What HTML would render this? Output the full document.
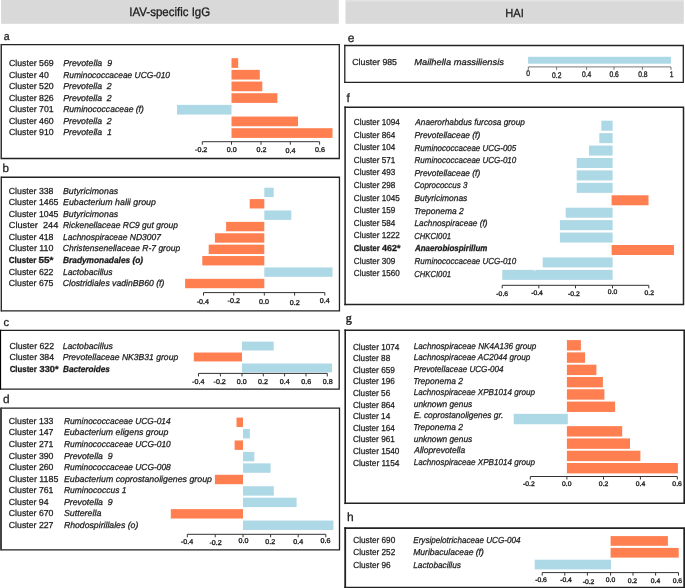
<!DOCTYPE html>
<html><head><meta charset="utf-8"><title>Figure</title>
<style>
html,body{margin:0;padding:0;background:#fff;}
svg{display:block;will-change:transform;}
text{text-rendering:geometricPrecision;font-family:"Liberation Sans",sans-serif;fill:#1a1a1a;stroke:#1a1a1a;stroke-width:0.25px;}
text.b{stroke-width:0.3px;}
.i{font-style:italic;}
.b{font-weight:bold;}
.t{fill:#222;stroke:#222;stroke-width:0.35px;}
</style></head><body>
<svg width="685" height="588" viewBox="0 0 685 588">
<rect x="1.1" y="0" width="337.7" height="23.8" fill="#d9d9d9"/>
<rect x="345.5" y="0" width="338.3" height="1.2" fill="#e3e3e3"/>
<rect x="345.5" y="1.2" width="338.3" height="22.6" fill="#d9d9d9"/>
<text x="129.3" y="16.1" font-size="12.3" textLength="80.9" lengthAdjust="spacingAndGlyphs" fill="#222" style="stroke-width:0.3px">IAV-specific IgG</text>
<text x="505.3" y="16.5" font-size="11.8" textLength="18.6" lengthAdjust="spacingAndGlyphs" fill="#222">HAI</text>
<path d="M0.85 44.60H339.30V158.50H0.85" fill="none" stroke="#222" stroke-width="1.3"/>
<rect x="0.50" y="43.95" width="1.50" height="115.20" fill="#333"/>
<text x="3.7" y="40.0" font-size="11.4" textLength="5.9" lengthAdjust="spacingAndGlyphs" fill="#222">a</text>
<text x="9.0" y="66.10" font-size="8.72" textLength="44.69" lengthAdjust="spacingAndGlyphs" xml:space="preserve">Cluster 569</text>
<text x="63.15" y="66.10" font-size="8.72" textLength="48.88" lengthAdjust="spacingAndGlyphs" class="i" xml:space="preserve">Prevotella  9</text>
<text x="9.0" y="77.58" font-size="8.72" textLength="39.77" lengthAdjust="spacingAndGlyphs" xml:space="preserve">Cluster 40</text>
<text x="63.15" y="77.58" font-size="8.72" textLength="106.91" lengthAdjust="spacingAndGlyphs" class="i" xml:space="preserve">Ruminococcaceae UCG-010</text>
<text x="9.0" y="89.06" font-size="8.72" textLength="44.69" lengthAdjust="spacingAndGlyphs" xml:space="preserve">Cluster 520</text>
<text x="63.15" y="89.06" font-size="8.72" textLength="48.58" lengthAdjust="spacingAndGlyphs" class="i" xml:space="preserve">Prevotella  2</text>
<text x="9.0" y="100.54" font-size="8.72" textLength="44.69" lengthAdjust="spacingAndGlyphs" xml:space="preserve">Cluster 826</text>
<text x="63.15" y="100.54" font-size="8.72" textLength="48.58" lengthAdjust="spacingAndGlyphs" class="i" xml:space="preserve">Prevotella  2</text>
<text x="9.0" y="112.02" font-size="8.72" textLength="44.69" lengthAdjust="spacingAndGlyphs" xml:space="preserve">Cluster 701</text>
<text x="63.15" y="112.02" font-size="8.72" textLength="80.71" lengthAdjust="spacingAndGlyphs" class="i" xml:space="preserve">Ruminococcaceae (f)</text>
<text x="9.0" y="123.50" font-size="8.72" textLength="44.69" lengthAdjust="spacingAndGlyphs" xml:space="preserve">Cluster 460</text>
<text x="63.15" y="123.50" font-size="8.72" textLength="48.58" lengthAdjust="spacingAndGlyphs" class="i" xml:space="preserve">Prevotella  2</text>
<text x="9.0" y="134.98" font-size="8.72" textLength="44.69" lengthAdjust="spacingAndGlyphs" xml:space="preserve">Cluster 910</text>
<text x="63.15" y="134.98" font-size="8.72" textLength="48.81" lengthAdjust="spacingAndGlyphs" class="i" xml:space="preserve">Prevotella  1</text>
<rect x="231.50" y="58.20" width="6.70" height="9.70" fill="#ff7f50"/>
<rect x="231.50" y="69.87" width="28.30" height="9.70" fill="#ff7f50"/>
<rect x="231.50" y="81.54" width="30.80" height="9.70" fill="#ff7f50"/>
<rect x="231.50" y="93.21" width="45.90" height="9.70" fill="#ff7f50"/>
<rect x="177.00" y="104.88" width="54.50" height="9.70" fill="#add8e6"/>
<rect x="231.50" y="116.55" width="66.50" height="9.70" fill="#ff7f50"/>
<rect x="231.50" y="128.22" width="101.00" height="9.70" fill="#ff7f50"/>
<path d="M202.30 144.70V141.70H319.60V144.70M231.50 141.70v3M261.00 141.70v3M290.30 141.70v3" fill="none" stroke="#333" stroke-width="1"/>
<text class="t" x="201.20" y="152.10" text-anchor="middle" font-size="7.06" textLength="12.34" lengthAdjust="spacingAndGlyphs">-0.2</text>
<text class="t" x="231.70" y="151.80" text-anchor="middle" font-size="7.06" textLength="9.94" lengthAdjust="spacingAndGlyphs">0.0</text>
<text class="t" x="261.40" y="151.80" text-anchor="middle" font-size="7.06" textLength="9.94" lengthAdjust="spacingAndGlyphs">0.2</text>
<text class="t" x="290.50" y="153.10" text-anchor="middle" font-size="7.06" textLength="9.94" lengthAdjust="spacingAndGlyphs">0.4</text>
<text class="t" x="319.90" y="151.60" text-anchor="middle" font-size="7.06" textLength="9.94" lengthAdjust="spacingAndGlyphs">0.6</text>
<path d="M0.85 177.25H339.45V310.80H0.85" fill="none" stroke="#222" stroke-width="1.3"/>
<rect x="0.60" y="176.60" width="1.40" height="134.85" fill="#2a2a2a"/>
<text x="2.5" y="171.8" font-size="11.6" fill="#222">b</text>
<text x="8.8" y="193.70" font-size="8.72" textLength="44.69" lengthAdjust="spacingAndGlyphs" xml:space="preserve">Cluster 338</text>
<text x="63.00" y="193.70" font-size="8.72" textLength="55.18" lengthAdjust="spacingAndGlyphs" class="i" xml:space="preserve">Butyricimonas</text>
<text x="8.8" y="205.25" font-size="8.72" textLength="49.61" lengthAdjust="spacingAndGlyphs" xml:space="preserve">Cluster 1465</text>
<text x="63.00" y="205.25" font-size="8.72" textLength="92.89" lengthAdjust="spacingAndGlyphs" class="i" xml:space="preserve">Eubacterium halii group</text>
<text x="8.8" y="216.80" font-size="8.72" textLength="49.61" lengthAdjust="spacingAndGlyphs" xml:space="preserve">Cluster 1045</text>
<text x="63.00" y="216.80" font-size="8.72" textLength="55.18" lengthAdjust="spacingAndGlyphs" class="i" xml:space="preserve">Butyricimonas</text>
<text x="8.8" y="228.35" font-size="8.72" textLength="49.54" lengthAdjust="spacingAndGlyphs" xml:space="preserve">Cluster  244</text>
<text x="63.00" y="228.35" font-size="8.72" textLength="114.87" lengthAdjust="spacingAndGlyphs" class="i" xml:space="preserve">Rickenellaceae RC9 gut group</text>
<text x="8.8" y="239.90" font-size="8.72" textLength="44.69" lengthAdjust="spacingAndGlyphs" xml:space="preserve">Cluster 418</text>
<text x="63.00" y="239.90" font-size="8.72" textLength="97.93" lengthAdjust="spacingAndGlyphs" class="i" xml:space="preserve">Lachnospiraceae ND3007</text>
<text x="8.8" y="251.45" font-size="8.72" textLength="44.69" lengthAdjust="spacingAndGlyphs" xml:space="preserve">Cluster 110</text>
<text x="62.75" y="251.45" font-size="8.72" textLength="117.43" lengthAdjust="spacingAndGlyphs" class="i" xml:space="preserve">Christensenellaceae R-7 group</text>
<text x="8.75" y="263.00" font-size="8.72" textLength="27.64" lengthAdjust="spacingAndGlyphs" class="b">Cluster</text>
<text x="38.40" y="263.00" font-size="8.72" textLength="15.01" lengthAdjust="spacingAndGlyphs" class="b">55*</text>
<text x="63.00" y="263.00" font-size="8.72" textLength="80.12" lengthAdjust="spacingAndGlyphs" class="i b" xml:space="preserve">Bradymonadales (o)</text>
<text x="8.8" y="274.55" font-size="8.72" textLength="44.69" lengthAdjust="spacingAndGlyphs" xml:space="preserve">Cluster 622</text>
<text x="63.00" y="274.55" font-size="8.72" textLength="49.58" lengthAdjust="spacingAndGlyphs" class="i" xml:space="preserve">Lactobacillus</text>
<text x="8.8" y="286.10" font-size="8.72" textLength="44.69" lengthAdjust="spacingAndGlyphs" xml:space="preserve">Cluster 675</text>
<text x="62.75" y="286.10" font-size="8.72" textLength="101.61" lengthAdjust="spacingAndGlyphs" class="i" xml:space="preserve">Clostridiales vadinBB60 (f)</text>
<rect x="264.30" y="187.70" width="9.40" height="9.40" fill="#add8e6"/>
<rect x="249.70" y="199.09" width="14.60" height="9.40" fill="#ff7f50"/>
<rect x="264.30" y="210.48" width="27.00" height="9.40" fill="#add8e6"/>
<rect x="226.10" y="221.87" width="38.20" height="9.40" fill="#ff7f50"/>
<rect x="214.90" y="233.26" width="49.40" height="9.40" fill="#ff7f50"/>
<rect x="208.70" y="244.65" width="55.60" height="9.40" fill="#ff7f50"/>
<rect x="202.30" y="256.04" width="62.00" height="9.40" fill="#ff7f50"/>
<rect x="264.30" y="267.43" width="68.20" height="9.40" fill="#add8e6"/>
<rect x="185.10" y="278.82" width="79.20" height="9.40" fill="#ff7f50"/>
<path d="M203.50 295.60V292.60H324.80V295.60M233.80 292.60v3M264.30 292.60v3M294.60 292.60v3" fill="none" stroke="#333" stroke-width="1"/>
<text class="t" x="202.90" y="303.50" text-anchor="middle" font-size="7.06" textLength="12.34" lengthAdjust="spacingAndGlyphs">-0.4</text>
<text class="t" x="233.80" y="302.80" text-anchor="middle" font-size="7.06" textLength="12.34" lengthAdjust="spacingAndGlyphs">-0.2</text>
<text class="t" x="263.90" y="303.80" text-anchor="middle" font-size="7.06" textLength="9.94" lengthAdjust="spacingAndGlyphs">0.0</text>
<text class="t" x="294.70" y="304.50" text-anchor="middle" font-size="7.06" textLength="9.94" lengthAdjust="spacingAndGlyphs">0.2</text>
<text class="t" x="324.80" y="303.30" text-anchor="middle" font-size="7.06" textLength="9.94" lengthAdjust="spacingAndGlyphs">0.4</text>
<path d="M0.85 330.30H339.20V389.20H0.85" fill="none" stroke="#222" stroke-width="1.3"/>
<rect x="0.00" y="329.65" width="1.10" height="60.20" fill="#000"/>
<text x="3.4" y="326.0" font-size="11.2" fill="#222">c</text>
<text x="9.4" y="348.60" font-size="8.72" textLength="44.69" lengthAdjust="spacingAndGlyphs" xml:space="preserve">Cluster 622</text>
<text x="62.75" y="348.60" font-size="8.72" textLength="50.02" lengthAdjust="spacingAndGlyphs" class="i" xml:space="preserve">Lactobacillus</text>
<text x="9.4" y="360.05" font-size="8.72" textLength="44.69" lengthAdjust="spacingAndGlyphs" xml:space="preserve">Cluster 384</text>
<text x="62.75" y="360.05" font-size="8.72" textLength="115.43" lengthAdjust="spacingAndGlyphs" class="i" xml:space="preserve">Prevotellaceae NK3B31 group</text>
<text x="9.65" y="371.50" font-size="8.72" textLength="27.13" lengthAdjust="spacingAndGlyphs" class="b">Cluster</text>
<text x="39.60" y="371.50" font-size="8.72" textLength="19.01" lengthAdjust="spacingAndGlyphs" class="b">330*</text>
<text x="63.00" y="371.50" font-size="8.72" textLength="46.78" lengthAdjust="spacingAndGlyphs" class="i b" xml:space="preserve">Bacteroides</text>
<rect x="242.00" y="341.60" width="31.70" height="8.90" fill="#add8e6"/>
<rect x="193.80" y="352.55" width="48.20" height="8.90" fill="#ff7f50"/>
<rect x="242.00" y="363.50" width="90.00" height="8.90" fill="#add8e6"/>
<path d="M198.50 376.40V373.40H327.30V376.40M220.40 373.40v3M242.00 373.40v3M263.30 373.40v3M284.60 373.40v3M306.00 373.40v3" fill="none" stroke="#333" stroke-width="1"/>
<text class="t" x="198.30" y="384.20" text-anchor="middle" font-size="7.06" textLength="12.34" lengthAdjust="spacingAndGlyphs">-0.4</text>
<text class="t" x="219.70" y="383.80" text-anchor="middle" font-size="7.06" textLength="12.34" lengthAdjust="spacingAndGlyphs">-0.2</text>
<text class="t" x="241.70" y="383.50" text-anchor="middle" font-size="7.06" textLength="9.94" lengthAdjust="spacingAndGlyphs">0.0</text>
<text class="t" x="262.90" y="383.80" text-anchor="middle" font-size="7.06" textLength="9.94" lengthAdjust="spacingAndGlyphs">0.2</text>
<text class="t" x="284.80" y="383.80" text-anchor="middle" font-size="7.06" textLength="9.94" lengthAdjust="spacingAndGlyphs">0.4</text>
<text class="t" x="306.20" y="383.80" text-anchor="middle" font-size="7.06" textLength="9.94" lengthAdjust="spacingAndGlyphs">0.6</text>
<text class="t" x="327.70" y="383.80" text-anchor="middle" font-size="7.06" textLength="9.94" lengthAdjust="spacingAndGlyphs">0.8</text>
<path d="M0.85 408.20H339.50V549.80H0.85" fill="none" stroke="#222" stroke-width="1.3"/>
<rect x="0.00" y="407.55" width="2.00" height="142.90" fill="#444"/>
<text x="3.0" y="402.7" font-size="11.8" fill="#222">d</text>
<text x="8.8" y="423.90" font-size="8.72" textLength="44.69" lengthAdjust="spacingAndGlyphs" xml:space="preserve">Cluster 133</text>
<text x="63.90" y="423.90" font-size="8.72" textLength="106.79" lengthAdjust="spacingAndGlyphs" class="i" xml:space="preserve">Ruminococcaceae UCG-014</text>
<text x="8.8" y="435.46" font-size="8.72" textLength="44.69" lengthAdjust="spacingAndGlyphs" xml:space="preserve">Cluster 147</text>
<text x="63.90" y="435.46" font-size="8.72" textLength="104.39" lengthAdjust="spacingAndGlyphs" class="i" xml:space="preserve">Eubacterium eligens group</text>
<text x="8.8" y="447.02" font-size="8.72" textLength="44.69" lengthAdjust="spacingAndGlyphs" xml:space="preserve">Cluster 271</text>
<text x="63.90" y="447.02" font-size="8.72" textLength="106.89" lengthAdjust="spacingAndGlyphs" class="i" xml:space="preserve">Ruminococcaceae UCG-010</text>
<text x="8.8" y="458.58" font-size="8.72" textLength="44.69" lengthAdjust="spacingAndGlyphs" xml:space="preserve">Cluster 390</text>
<text x="63.90" y="458.58" font-size="8.72" textLength="48.86" lengthAdjust="spacingAndGlyphs" class="i" xml:space="preserve">Prevotella  9</text>
<text x="8.8" y="470.14" font-size="8.72" textLength="44.69" lengthAdjust="spacingAndGlyphs" xml:space="preserve">Cluster 260</text>
<text x="63.90" y="470.14" font-size="8.72" textLength="106.89" lengthAdjust="spacingAndGlyphs" class="i" xml:space="preserve">Ruminococcaceae UCG-008</text>
<text x="8.8" y="481.70" font-size="8.72" textLength="49.61" lengthAdjust="spacingAndGlyphs" xml:space="preserve">Cluster 1185</text>
<text x="63.90" y="481.70" font-size="8.72" textLength="148.03" lengthAdjust="spacingAndGlyphs" class="i" xml:space="preserve">Eubacterium coprostanoligenes group</text>
<text x="8.8" y="493.26" font-size="8.72" textLength="44.69" lengthAdjust="spacingAndGlyphs" xml:space="preserve">Cluster 761</text>
<text x="63.90" y="493.26" font-size="8.72" textLength="62.53" lengthAdjust="spacingAndGlyphs" class="i" xml:space="preserve">Ruminococcus 1</text>
<text x="8.8" y="504.82" font-size="8.72" textLength="39.77" lengthAdjust="spacingAndGlyphs" xml:space="preserve">Cluster 94</text>
<text x="63.90" y="504.82" font-size="8.72" textLength="48.86" lengthAdjust="spacingAndGlyphs" class="i" xml:space="preserve">Prevotella  9</text>
<text x="8.8" y="516.38" font-size="8.72" textLength="44.69" lengthAdjust="spacingAndGlyphs" xml:space="preserve">Cluster 670</text>
<text x="63.90" y="516.38" font-size="8.72" textLength="37.48" lengthAdjust="spacingAndGlyphs" class="i" xml:space="preserve">Sutterella</text>
<text x="8.8" y="527.94" font-size="8.72" textLength="44.69" lengthAdjust="spacingAndGlyphs" xml:space="preserve">Cluster 227</text>
<text x="63.90" y="527.94" font-size="8.72" textLength="74.45" lengthAdjust="spacingAndGlyphs" class="i" xml:space="preserve">Rhodospirillales (o)</text>
<rect x="236.50" y="417.60" width="6.50" height="9.40" fill="#ff7f50"/>
<rect x="243.00" y="429.04" width="6.90" height="9.40" fill="#add8e6"/>
<rect x="234.60" y="440.48" width="8.40" height="9.40" fill="#ff7f50"/>
<rect x="243.00" y="451.92" width="11.30" height="9.40" fill="#add8e6"/>
<rect x="243.00" y="463.36" width="27.60" height="9.40" fill="#add8e6"/>
<rect x="214.90" y="474.80" width="28.10" height="9.40" fill="#ff7f50"/>
<rect x="243.00" y="486.24" width="30.80" height="9.40" fill="#add8e6"/>
<rect x="243.00" y="497.68" width="53.60" height="9.40" fill="#add8e6"/>
<rect x="170.80" y="509.12" width="72.20" height="9.40" fill="#ff7f50"/>
<rect x="243.00" y="520.56" width="90.40" height="9.40" fill="#add8e6"/>
<path d="M187.30 537.30V534.30H325.80V537.30M215.20 534.30v3M243.00 534.30v3M270.60 534.30v3M298.20 534.30v3" fill="none" stroke="#333" stroke-width="1"/>
<text class="t" x="187.00" y="543.50" text-anchor="middle" font-size="7.06" textLength="12.34" lengthAdjust="spacingAndGlyphs">-0.4</text>
<text class="t" x="215.60" y="545.10" text-anchor="middle" font-size="7.06" textLength="12.34" lengthAdjust="spacingAndGlyphs">-0.2</text>
<text class="t" x="243.60" y="543.00" text-anchor="middle" font-size="7.06" textLength="9.94" lengthAdjust="spacingAndGlyphs">0.0</text>
<text class="t" x="270.30" y="543.80" text-anchor="middle" font-size="7.06" textLength="9.94" lengthAdjust="spacingAndGlyphs">0.2</text>
<text class="t" x="298.20" y="544.30" text-anchor="middle" font-size="7.06" textLength="9.94" lengthAdjust="spacingAndGlyphs">0.4</text>
<text class="t" x="325.40" y="543.30" text-anchor="middle" font-size="7.06" textLength="9.94" lengthAdjust="spacingAndGlyphs">0.6</text>
<path d="M344.15 45.50H683.30V82.30H344.15" fill="none" stroke="#222" stroke-width="1.3"/>
<rect x="344.15" y="44.85" width="1.30" height="38.10" fill="#222"/>
<text x="347.8" y="42.0" font-size="12" fill="#222">e</text>
<text x="352.3" y="64.80" font-size="8.72" textLength="44.69" lengthAdjust="spacingAndGlyphs" xml:space="preserve">Cluster 985</text>
<text x="414.25" y="64.80" font-size="8.72" textLength="89.72" lengthAdjust="spacingAndGlyphs" class="i" xml:space="preserve">Mailhella massiliensis</text>
<rect x="528.10" y="56.80" width="142.90" height="6.90" fill="#add8e6"/>
<path d="M528.30 69.90V66.90H671.00V69.90M556.60 66.90v3M586.60 66.90v3M614.00 66.90v3M642.40 66.90v3" fill="none" stroke="#555" stroke-width="0.8"/>
<text class="t" x="528.00" y="76.40" text-anchor="middle" font-size="8.12" textLength="3.75" lengthAdjust="spacingAndGlyphs">0</text>
<text class="t" x="556.80" y="77.60" text-anchor="middle" font-size="8.12" textLength="9.37" lengthAdjust="spacingAndGlyphs">0.2</text>
<text class="t" x="586.60" y="76.80" text-anchor="middle" font-size="8.12" textLength="9.37" lengthAdjust="spacingAndGlyphs">0.4</text>
<text class="t" x="614.10" y="76.80" text-anchor="middle" font-size="8.12" textLength="9.37" lengthAdjust="spacingAndGlyphs">0.6</text>
<text class="t" x="642.90" y="76.80" text-anchor="middle" font-size="8.12" textLength="9.37" lengthAdjust="spacingAndGlyphs">0.8</text>
<text class="t" x="671.50" y="76.80" text-anchor="middle" font-size="8.12" textLength="3.75" lengthAdjust="spacingAndGlyphs">1</text>
<path d="M344.35 107.20H683.50V304.50H344.35" fill="none" stroke="#222" stroke-width="1.5"/>
<rect x="344.35" y="106.45" width="1.50" height="198.80" fill="#222"/>
<text x="346.5" y="102.0" font-size="12" fill="#222">f</text>
<text x="353.8" y="124.90" font-size="8.72" textLength="46.03" lengthAdjust="spacingAndGlyphs" xml:space="preserve">Cluster 1094</text>
<text x="415.25" y="125.30" font-size="8.72" textLength="109.62" lengthAdjust="spacingAndGlyphs" class="i" xml:space="preserve">Anaerorhabdus furcosa group</text>
<text x="353.8" y="137.50" font-size="8.72" textLength="41.46" lengthAdjust="spacingAndGlyphs" xml:space="preserve">Cluster 864</text>
<text x="414.50" y="137.90" font-size="8.72" textLength="65.74" lengthAdjust="spacingAndGlyphs" class="i" xml:space="preserve">Prevotellaceae (f)</text>
<text x="353.8" y="150.10" font-size="8.72" textLength="41.46" lengthAdjust="spacingAndGlyphs" xml:space="preserve">Cluster 104</text>
<text x="414.50" y="150.50" font-size="8.72" textLength="101.77" lengthAdjust="spacingAndGlyphs" class="i" xml:space="preserve">Ruminococcaceae UCG-005</text>
<text x="353.8" y="162.70" font-size="8.72" textLength="41.46" lengthAdjust="spacingAndGlyphs" xml:space="preserve">Cluster 571</text>
<text x="414.50" y="163.10" font-size="8.72" textLength="101.77" lengthAdjust="spacingAndGlyphs" class="i" xml:space="preserve">Ruminococcaceae UCG-010</text>
<text x="353.8" y="175.30" font-size="8.72" textLength="41.46" lengthAdjust="spacingAndGlyphs" xml:space="preserve">Cluster 493</text>
<text x="414.50" y="175.70" font-size="8.72" textLength="65.74" lengthAdjust="spacingAndGlyphs" class="i" xml:space="preserve">Prevotellaceae (f)</text>
<text x="353.8" y="187.90" font-size="8.72" textLength="41.46" lengthAdjust="spacingAndGlyphs" xml:space="preserve">Cluster 298</text>
<text x="414.25" y="188.30" font-size="8.72" textLength="53.11" lengthAdjust="spacingAndGlyphs" class="i" xml:space="preserve">Coprococcus 3</text>
<text x="353.8" y="200.50" font-size="8.72" textLength="46.03" lengthAdjust="spacingAndGlyphs" xml:space="preserve">Cluster 1045</text>
<text x="414.50" y="200.90" font-size="8.72" textLength="52.78" lengthAdjust="spacingAndGlyphs" class="i" xml:space="preserve">Butyricimonas</text>
<text x="353.8" y="213.10" font-size="8.72" textLength="41.46" lengthAdjust="spacingAndGlyphs" xml:space="preserve">Cluster 159</text>
<text x="414.00" y="213.50" font-size="8.72" textLength="49.70" lengthAdjust="spacingAndGlyphs" class="i" xml:space="preserve">Treponema 2</text>
<text x="353.8" y="225.70" font-size="8.72" textLength="41.46" lengthAdjust="spacingAndGlyphs" xml:space="preserve">Cluster 584</text>
<text x="414.50" y="226.10" font-size="8.72" textLength="73.03" lengthAdjust="spacingAndGlyphs" class="i" xml:space="preserve">Lachnospiraceae (f)</text>
<text x="353.8" y="238.30" font-size="8.72" textLength="46.03" lengthAdjust="spacingAndGlyphs" xml:space="preserve">Cluster 1222</text>
<text x="414.25" y="238.70" font-size="8.72" textLength="36.69" lengthAdjust="spacingAndGlyphs" class="i" xml:space="preserve">CHKCI001</text>
<text x="353.75" y="250.90" font-size="8.72" textLength="25.81" lengthAdjust="spacingAndGlyphs" class="b">Cluster</text>
<text x="382.10" y="250.90" font-size="8.72" textLength="18.38" lengthAdjust="spacingAndGlyphs" class="b">462*</text>
<text x="415.00" y="251.30" font-size="8.72" textLength="72.43" lengthAdjust="spacingAndGlyphs" class="i b" xml:space="preserve">Anaerobiospirillum</text>
<text x="353.8" y="263.50" font-size="8.72" textLength="41.46" lengthAdjust="spacingAndGlyphs" xml:space="preserve">Cluster 309</text>
<text x="414.50" y="263.90" font-size="8.72" textLength="101.77" lengthAdjust="spacingAndGlyphs" class="i" xml:space="preserve">Ruminococcaceae UCG-010</text>
<text x="353.8" y="276.10" font-size="8.72" textLength="46.03" lengthAdjust="spacingAndGlyphs" xml:space="preserve">Cluster 1560</text>
<text x="414.25" y="276.50" font-size="8.72" textLength="36.69" lengthAdjust="spacingAndGlyphs" class="i" xml:space="preserve">CHKCI001</text>
<rect x="601.30" y="120.70" width="11.30" height="10.00" fill="#add8e6"/>
<rect x="599.30" y="133.13" width="13.30" height="10.00" fill="#add8e6"/>
<rect x="589.00" y="145.56" width="23.60" height="10.00" fill="#add8e6"/>
<rect x="576.70" y="157.99" width="35.90" height="10.00" fill="#add8e6"/>
<rect x="576.70" y="170.42" width="35.90" height="10.00" fill="#add8e6"/>
<rect x="576.70" y="182.85" width="35.90" height="10.00" fill="#add8e6"/>
<rect x="611.60" y="195.28" width="36.90" height="10.00" fill="#ff7f50"/>
<rect x="565.70" y="207.71" width="46.90" height="10.00" fill="#add8e6"/>
<rect x="559.90" y="220.14" width="52.70" height="10.00" fill="#add8e6"/>
<rect x="559.90" y="232.57" width="52.70" height="10.00" fill="#add8e6"/>
<rect x="611.60" y="245.00" width="62.40" height="10.00" fill="#ff7f50"/>
<rect x="542.70" y="257.43" width="69.90" height="10.00" fill="#add8e6"/>
<rect x="502.30" y="269.86" width="110.30" height="10.00" fill="#add8e6"/>
<path d="M502.20 288.30V285.30H648.80V288.30M538.80 285.30v3M575.50 285.30v3M612.50 285.30v3" fill="none" stroke="#333" stroke-width="1"/>
<text class="t" x="502.20" y="295.80" text-anchor="middle" font-size="6.70" textLength="11.71" lengthAdjust="spacingAndGlyphs">-0.6</text>
<text class="t" x="537.00" y="295.10" text-anchor="middle" font-size="6.70" textLength="11.71" lengthAdjust="spacingAndGlyphs">-0.4</text>
<text class="t" x="573.90" y="295.80" text-anchor="middle" font-size="6.70" textLength="11.71" lengthAdjust="spacingAndGlyphs">-0.2</text>
<text class="t" x="612.60" y="294.30" text-anchor="middle" font-size="6.70" textLength="9.43" lengthAdjust="spacingAndGlyphs">0.0</text>
<text class="t" x="649.20" y="294.80" text-anchor="middle" font-size="6.70" textLength="9.43" lengthAdjust="spacingAndGlyphs">0.2</text>
<path d="M344.40 330.20H684.20V503.30H344.40" fill="none" stroke="#222" stroke-width="1.6"/>
<rect x="344.40" y="329.40" width="1.60" height="174.70" fill="#222"/>
<text x="345.7" y="322.3" font-size="12.2" style="font-family:'Liberation Serif',serif;stroke-width:0.4px" fill="#222">g</text>
<text x="352.9" y="349.50" font-size="8.72" textLength="46.54" lengthAdjust="spacingAndGlyphs" xml:space="preserve">Cluster 1074</text>
<text x="413.75" y="348.70" font-size="8.72" textLength="122.51" lengthAdjust="spacingAndGlyphs" class="i" xml:space="preserve">Lachnospiraceae NK4A136 group</text>
<text x="352.9" y="361.10" font-size="8.72" textLength="37.31" lengthAdjust="spacingAndGlyphs" xml:space="preserve">Cluster 88</text>
<text x="413.75" y="360.30" font-size="8.72" textLength="116.66" lengthAdjust="spacingAndGlyphs" class="i" xml:space="preserve">Lachnospiraceae AC2044 group</text>
<text x="352.9" y="372.70" font-size="8.72" textLength="41.92" lengthAdjust="spacingAndGlyphs" xml:space="preserve">Cluster 659</text>
<text x="413.75" y="371.90" font-size="8.72" textLength="89.82" lengthAdjust="spacingAndGlyphs" class="i" xml:space="preserve">Prevotellaceae UCG-004</text>
<text x="352.9" y="384.30" font-size="8.72" textLength="41.92" lengthAdjust="spacingAndGlyphs" xml:space="preserve">Cluster 196</text>
<text x="413.25" y="383.50" font-size="8.72" textLength="49.70" lengthAdjust="spacingAndGlyphs" class="i" xml:space="preserve">Treponema 2</text>
<text x="352.9" y="395.90" font-size="8.72" textLength="37.31" lengthAdjust="spacingAndGlyphs" xml:space="preserve">Cluster 56</text>
<text x="413.75" y="395.10" font-size="8.72" textLength="121.22" lengthAdjust="spacingAndGlyphs" class="i" xml:space="preserve">Lachnospiraceae XPB1014 group</text>
<text x="352.9" y="407.50" font-size="8.72" textLength="41.92" lengthAdjust="spacingAndGlyphs" xml:space="preserve">Cluster 864</text>
<text x="413.75" y="406.70" font-size="8.72" textLength="58.45" lengthAdjust="spacingAndGlyphs" class="i" xml:space="preserve">unknown genus</text>
<text x="352.9" y="419.10" font-size="8.72" textLength="37.31" lengthAdjust="spacingAndGlyphs" xml:space="preserve">Cluster 14</text>
<text x="413.75" y="418.30" font-size="8.72" textLength="89.50" lengthAdjust="spacingAndGlyphs" class="i" xml:space="preserve">E. coprostanoligenes gr.</text>
<text x="352.9" y="430.70" font-size="8.72" textLength="41.92" lengthAdjust="spacingAndGlyphs" xml:space="preserve">Cluster 164</text>
<text x="413.25" y="429.90" font-size="8.72" textLength="49.70" lengthAdjust="spacingAndGlyphs" class="i" xml:space="preserve">Treponema 2</text>
<text x="352.9" y="442.30" font-size="8.72" textLength="41.92" lengthAdjust="spacingAndGlyphs" xml:space="preserve">Cluster 961</text>
<text x="413.75" y="441.50" font-size="8.72" textLength="58.45" lengthAdjust="spacingAndGlyphs" class="i" xml:space="preserve">unknown genus</text>
<text x="352.9" y="453.90" font-size="8.72" textLength="46.54" lengthAdjust="spacingAndGlyphs" xml:space="preserve">Cluster 1540</text>
<text x="414.25" y="453.10" font-size="8.72" textLength="50.90" lengthAdjust="spacingAndGlyphs" class="i" xml:space="preserve">Alloprevotella</text>
<text x="352.9" y="465.50" font-size="8.72" textLength="46.54" lengthAdjust="spacingAndGlyphs" xml:space="preserve">Cluster 1154</text>
<text x="413.75" y="464.70" font-size="8.72" textLength="121.22" lengthAdjust="spacingAndGlyphs" class="i" xml:space="preserve">Lachnospiraceae XPB1014 group</text>
<rect x="566.90" y="340.10" width="14.00" height="10.40" fill="#ff7f50"/>
<rect x="566.90" y="352.39" width="18.20" height="10.40" fill="#ff7f50"/>
<rect x="566.90" y="364.68" width="29.50" height="10.40" fill="#ff7f50"/>
<rect x="566.90" y="376.97" width="36.00" height="10.40" fill="#ff7f50"/>
<rect x="566.90" y="389.26" width="37.50" height="10.40" fill="#ff7f50"/>
<rect x="566.90" y="401.55" width="48.20" height="10.40" fill="#ff7f50"/>
<rect x="513.70" y="413.84" width="54.10" height="10.40" fill="#add8e6"/>
<rect x="566.90" y="426.13" width="55.30" height="10.40" fill="#ff7f50"/>
<rect x="566.90" y="438.42" width="63.10" height="10.40" fill="#ff7f50"/>
<rect x="566.90" y="450.71" width="73.50" height="10.40" fill="#ff7f50"/>
<rect x="566.90" y="463.00" width="111.00" height="10.40" fill="#ff7f50"/>
<path d="M530.30 479.50V476.50H677.30V479.50M566.90 476.50v3M603.50 476.50v3M640.40 476.50v3" fill="none" stroke="#333" stroke-width="1"/>
<text class="t" x="528.90" y="486.30" text-anchor="middle" font-size="6.70" textLength="11.71" lengthAdjust="spacingAndGlyphs">-0.2</text>
<text class="t" x="566.80" y="486.30" text-anchor="middle" font-size="6.70" textLength="9.43" lengthAdjust="spacingAndGlyphs">0.0</text>
<text class="t" x="603.60" y="486.30" text-anchor="middle" font-size="6.70" textLength="9.43" lengthAdjust="spacingAndGlyphs">0.2</text>
<text class="t" x="640.50" y="486.30" text-anchor="middle" font-size="6.70" textLength="9.43" lengthAdjust="spacingAndGlyphs">0.4</text>
<text class="t" x="677.10" y="486.30" text-anchor="middle" font-size="6.70" textLength="9.43" lengthAdjust="spacingAndGlyphs">0.6</text>
<path d="M344.30 528.20H684.20V587.70H344.30" fill="none" stroke="#222" stroke-width="1.8"/>
<rect x="344.30" y="527.30" width="1.80" height="61.30" fill="#222"/>
<text x="347.0" y="520.8" font-size="12" fill="#222">h</text>
<text x="353.3" y="542.90" font-size="8.72" textLength="41.92" lengthAdjust="spacingAndGlyphs" xml:space="preserve">Cluster 690</text>
<text x="413.25" y="542.90" font-size="8.72" textLength="107.25" lengthAdjust="spacingAndGlyphs" class="i" xml:space="preserve">Erysipelotrichaceae UCG-004</text>
<text x="353.3" y="555.25" font-size="8.72" textLength="41.92" lengthAdjust="spacingAndGlyphs" xml:space="preserve">Cluster 252</text>
<text x="413.25" y="555.25" font-size="8.72" textLength="70.56" lengthAdjust="spacingAndGlyphs" class="i" xml:space="preserve">Muribaculaceae (f)</text>
<text x="353.3" y="567.60" font-size="8.72" textLength="37.31" lengthAdjust="spacingAndGlyphs" xml:space="preserve">Cluster 96</text>
<text x="413.25" y="567.60" font-size="8.72" textLength="47.64" lengthAdjust="spacingAndGlyphs" class="i" xml:space="preserve">Lactobacillus</text>
<rect x="610.60" y="536.10" width="57.30" height="9.70" fill="#ff7f50"/>
<rect x="610.60" y="547.90" width="68.10" height="9.70" fill="#ff7f50"/>
<rect x="534.70" y="559.70" width="76.30" height="9.70" fill="#add8e6"/>
<path d="M542.20 575.60V572.60H678.50V575.60M564.80 572.60v3M587.40 572.60v3M610.60 572.60v3M633.00 572.60v3M655.60 572.60v3" fill="none" stroke="#333" stroke-width="1"/>
<text class="t" x="541.00" y="582.30" text-anchor="middle" font-size="6.70" textLength="11.71" lengthAdjust="spacingAndGlyphs">-0.6</text>
<text class="t" x="566.00" y="581.80" text-anchor="middle" font-size="6.70" textLength="11.71" lengthAdjust="spacingAndGlyphs">-0.4</text>
<text class="t" x="588.50" y="583.80" text-anchor="middle" font-size="6.70" textLength="11.71" lengthAdjust="spacingAndGlyphs">-0.2</text>
<text class="t" x="610.50" y="582.20" text-anchor="middle" font-size="6.70" textLength="9.43" lengthAdjust="spacingAndGlyphs">0.0</text>
<text class="t" x="632.40" y="583.20" text-anchor="middle" font-size="6.70" textLength="9.43" lengthAdjust="spacingAndGlyphs">0.2</text>
<text class="t" x="655.50" y="583.30" text-anchor="middle" font-size="6.70" textLength="9.43" lengthAdjust="spacingAndGlyphs">0.4</text>
<text class="t" x="677.40" y="583.20" text-anchor="middle" font-size="6.70" textLength="9.43" lengthAdjust="spacingAndGlyphs">0.6</text>
<rect x="534.2" y="269.6" width="1" height="1.3" fill="#fff"/>
</svg>
</body></html>
